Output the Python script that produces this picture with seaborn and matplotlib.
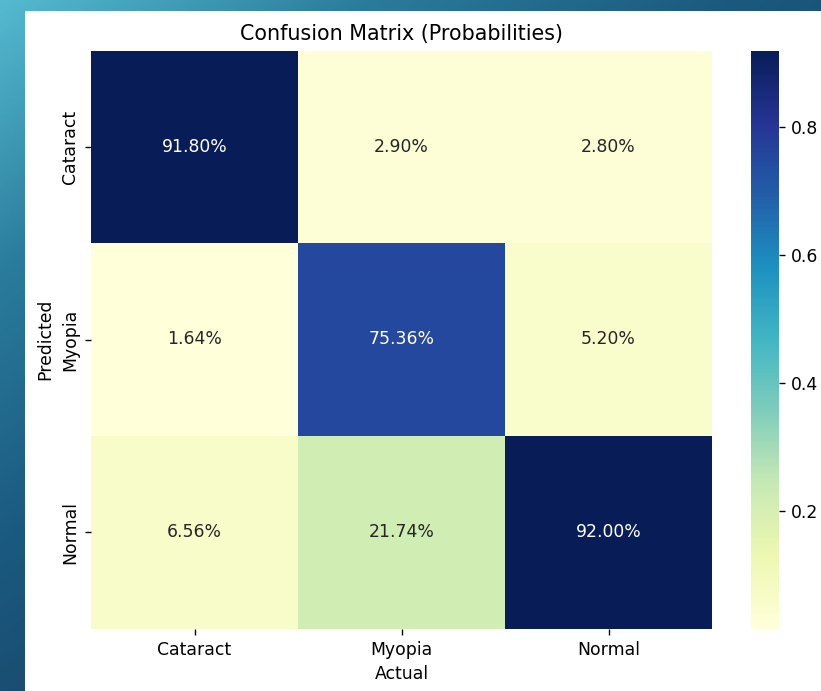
import numpy as np
import pandas as pd
import matplotlib
matplotlib.use("Agg")
import matplotlib.pyplot as plt
from matplotlib.colors import LinearSegmentedColormap
from matplotlib.patches import Rectangle
import seaborn as sns

# Class labels and row-normalised confusion probabilities
classes = ["Cataract", "Myopia", "Normal"]
row_cataract = [0.9180, 0.0290, 0.0280]
row_myopia = [0.0164, 0.7536, 0.0520]
row_normal = [0.0656, 0.2174, 0.9200]

cm = pd.DataFrame([row_cataract, row_myopia, row_normal], index=classes, columns=classes)

W, H = 821, 691
s = 1.24  # overall scale for text and tick sizes
fig = plt.figure(figsize=(W / 100, H / 100), dpi=100)

# Slide-style gradient backdrop with a white panel on top
bg_ax = fig.add_axes([0, 0, 1, 1], zorder=-10)
yy, xx = np.mgrid[0:1:200j, 0:1:240j]
t = np.clip(0.75 * xx + 0.85 * yy, 0, 1)
grad = LinearSegmentedColormap.from_list("bg", ["#55bad0", "#2a7c9c", "#1b5a80", "#1a4569"])
bg_ax.imshow(t, cmap=grad, aspect="auto", extent=[0, 1, 0, 1], origin="upper")
bg_ax.set_axis_off()
fig.patches.append(Rectangle((25 / W, 0), 1 - 25 / W, 1 - 11 / H,
                             transform=fig.transFigure, facecolor="white",
                             edgecolor="none", zorder=-5))

ax = fig.add_axes([91 / W, 1 - 628.5 / H, 621 / W, 578 / H])
cax = fig.add_axes([751 / W, 1 - 628.5 / H, 28 / W, 578 / H])

sns.heatmap(cm, annot=True, fmt=".2%", cmap="YlGnBu", ax=ax, cbar_ax=cax,
            annot_kws={"fontsize": 10 * s})
ax.set_title("Confusion Matrix (Probabilities)", fontsize=12 * s, pad=6 * s)
ax.set_xlabel("Actual", fontsize=10 * s, labelpad=4 * s)
ax.set_ylabel("Predicted", fontsize=10 * s, labelpad=4 * s)
for a in (ax, cax):
    a.tick_params(labelsize=10 * s, length=3.5 * s, width=0.8 * s, pad=3.5 * s)
cax.set_yticks([0.2, 0.4, 0.6, 0.8])

fig.savefig("out.png", dpi=100)
